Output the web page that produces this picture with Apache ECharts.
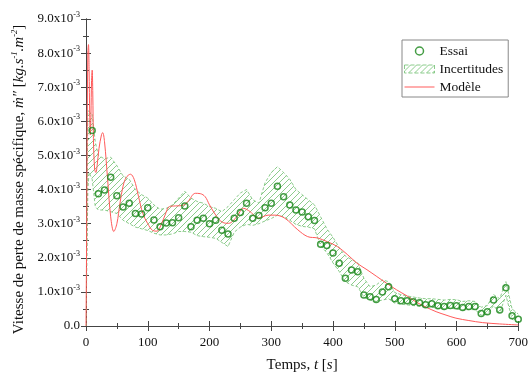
<!DOCTYPE html>
<html>
<head>
<meta charset="utf-8">
<script src="https://cdn.jsdelivr.net/npm/echarts@6/dist/echarts.min.js"></script>
<style>html,body{margin:0;padding:0;background:#fff}#c{width:531px;height:379px}</style>
</head>
<body>
<div id="c"></div>
<script>
// Values in units of 10^-3 kg.s^-1.m^-2
const essaiT = [10,20,30,40,50,60,70,80,90,100,110,120,130,140,150,160,170,180,190,200,210,220,230,240,250,260,270,280,290,300,310,320,330,340,350,360,370,380,390,400,410,420,430,440,450,460,470,480,490,500,510,520,530,540,550,560,570,580,590,600,610,620,630,640,650,660,670,680,690,700];
const essaiV = [5.73,3.88,3.99,4.36,3.82,3.49,3.6,3.3,3.28,3.47,3.11,2.91,3.02,3.03,3.17,3.52,2.91,3.1,3.16,3.0,3.1,2.81,2.7,3.16,3.33,3.6,3.16,3.24,3.47,3.6,4.1,3.79,3.55,3.4,3.34,3.2,3.09,2.4,2.36,2.14,1.84,1.4,1.64,1.59,0.91,0.86,0.78,1.0,1.15,0.8,0.74,0.74,0.71,0.68,0.62,0.65,0.59,0.57,0.6,0.59,0.54,0.57,0.57,0.37,0.42,0.76,0.47,1.12,0.3,0.2];

const bandT = [0,3,5,10,15,20,30,40,50,60,70,80,90,100,110,120,130,140,150,160,170,180,190,200,210,220,230,240,250,260,270,280,290,300,310,320,330,340,350,360,370,380,390,400,410,420,430,440,450,460,470,480,490,500,510,520,530,540,550,560,570,580,590,600,610,620,630,640,650,660,670,680,690,700];
const bandLow = [0,4.0,4.5,4.3,3.5,3.4,3.4,3.35,3.3,3.1,3.0,2.9,2.85,2.8,2.72,2.67,2.67,2.7,2.77,2.77,2.75,2.65,2.62,2.6,2.57,2.45,2.33,2.75,2.9,2.98,2.95,3.0,3.08,3.15,3.25,3.2,3.1,2.98,2.92,2.9,2.85,2.35,2.15,1.85,1.6,1.3,1.2,1.15,0.85,0.76,0.72,0.76,0.8,0.67,0.64,0.62,0.6,0.58,0.55,0.55,0.52,0.5,0.52,0.5,0.47,0.48,0.48,0.32,0.35,0.6,0.38,0.9,0.2,0.1];
const bandHigh = [0,6.3,6.3,6.2,5.4,5.0,4.9,4.95,4.7,4.4,4.3,4.0,3.85,3.75,3.55,3.42,3.45,3.55,3.75,3.95,3.75,3.65,3.6,3.5,3.45,3.35,3.5,3.7,3.9,4.0,3.7,3.6,4.2,4.5,4.67,4.5,4.3,4.0,3.85,3.7,3.55,3.2,2.85,2.6,2.3,2.05,1.95,1.85,1.4,1.15,1.2,1.35,1.3,0.98,0.92,0.88,0.85,0.82,0.8,0.8,0.78,0.76,0.78,0.77,0.72,0.74,0.72,0.55,0.6,0.92,0.8,1.3,0.5,0.35];

const modelT = [0,1,2,3,4,5,6,7,8,9,10,11,12,14,16,18,21,25,27,30,35,40,45,50,55,60,65,72,78,85,92,100,108,115,120,128,135,145,156,165,177,185,193,200,212,221,231,244,255,266,279,295,306,322,343,359,375,391,407,423,439,455,471,487,503,520,535,551,567,583,599,620,642,670,700];
const modelV = [0,2.5,6.0,8.0,8.25,7.5,6.2,5.6,6.2,7.2,7.5,6.8,5.5,4.6,4.5,4.7,5.2,5.6,5.67,5.4,4.3,3.2,2.77,3.0,3.6,4.1,4.35,4.45,4.3,3.8,3.3,3.0,2.8,2.78,2.9,3.25,3.5,3.52,3.53,3.65,3.89,3.88,3.79,3.55,3.2,3.04,3.01,3.2,3.45,3.35,3.16,3.25,3.25,3.16,2.82,2.62,2.58,2.47,2.33,2.1,1.84,1.65,1.45,1.25,1.06,0.88,0.7,0.55,0.42,0.32,0.23,0.16,0.1,0.06,0.03];

const xTicks = [0,100,200,300,400,500,600,700];
const yLabels = ['0.0','1.0','2.0','3.0','4.0','5.0','6.0','7.0','8.0','9.0'];

const FONT = 'Liberation Serif';
const GREEN = '#158515';
const HATCH = 'rgba(120,195,120,0.85)';
const RED = '#ff5a5a';
const AXIS = '#444';

// hatch pattern
const pc = document.createElement('canvas');
pc.width = 6; pc.height = 6;
const g = pc.getContext('2d');
g.strokeStyle = HATCH; g.lineWidth = 1;
g.beginPath();
g.moveTo(0,6); g.lineTo(6,0);
g.moveTo(-1,1); g.lineTo(1,-1);
g.moveTo(5,7); g.lineTo(7,5);
g.stroke();
const pattern = {image: pc, repeat: 'repeat'};

const chart = echarts.init(document.getElementById('c'));

const yFmt = function(v){
  const i = Math.round(v);
  if (i === 0) return '{a|' + yLabels[0] + '}';
  return '{a|' + yLabels[i] + 'x10}{s|-3}';
};

const baseX = {
  type: 'value', min: 0, max: 700, interval: 100,
  axisLine: {show: true, lineStyle: {color: AXIS, width: 1}},
  axisTick: {show: true, inside: true, length: 5, lineStyle: {color: AXIS}},
  minorTick: {show: true, splitNumber: 2, length: 3, lineStyle: {color: AXIS}},
  splitLine: {show: false}
};
const baseY = {
  type: 'value', min: 0, max: 9, interval: 1,
  axisLine: {show: true, lineStyle: {color: AXIS, width: 1}},
  axisTick: {show: true, inside: true, length: 5, lineStyle: {color: AXIS}},
  minorTick: {show: true, splitNumber: 2, length: 3, lineStyle: {color: AXIS}},
  splitLine: {show: false}
};

function renderBand(params, api) {
  if (params.dataIndex !== 0) return null;
  const up = bandT.map((t, i) => api.coord([t, bandHigh[i]]));
  const lo = bandT.map((t, i) => api.coord([t, bandLow[i]]));
  const poly = up.concat(lo.slice().reverse());
  return {
    type: 'group',
    children: [
      {type: 'polygon', shape: {points: poly}, style: {fill: pattern, stroke: null}},
      {type: 'polyline', shape: {points: up}, style: {stroke: HATCH, lineWidth: 1, lineDash: [3, 2], fill: null}},
      {type: 'polyline', shape: {points: lo}, style: {stroke: HATCH, lineWidth: 1, lineDash: [3, 2], fill: null}}
    ]
  };
}

chart.setOption({
  animation: false,
  backgroundColor: '#fff',
  grid: {left: 86, right: 8, top: 19, bottom: 53},
  legend: {
    orient: 'vertical', left: 402, top: 40,
    borderColor: '#888', borderWidth: 1, padding: [4, 5, 3, 2],
    itemGap: 4, itemWidth: 30, itemHeight: 8,
    textStyle: {fontFamily: FONT, fontSize: 13.5, color: '#111'},
    data: [
      {name: 'Essai', icon: 'circle', itemStyle: {color: 'rgba(0,0,0,0)', borderColor: GREEN, borderWidth: 1.5}},
      {name: 'Incertitudes', icon: 'rect', itemStyle: {color: pattern, borderColor: HATCH, borderWidth: 1, borderType: 'dashed'}},
      {name: 'Modèle', icon: 'path://M0,0 L30,0 L30,1 L0,1 Z', itemStyle: {color: RED, borderWidth: 0}}
    ]
  },
  xAxis: [
    Object.assign({}, baseX, {
      position: 'bottom',
      axisLabel: {margin: 10, fontFamily: FONT, fontSize: 13, color: '#111', formatter: function(v){ return xTicks.indexOf(v) >= 0 ? String(v) : ''; }},
      name: '{n|Temps, }{i|t}{n| [}{i|s}{n|]}',
      nameLocation: 'middle', nameGap: 32,
      nameTextStyle: {rich: {n: {fontFamily: FONT, fontSize: 15, color: '#111'}, i: {fontFamily: FONT, fontSize: 15, fontStyle: 'italic', color: '#111'}}}
    }),
    Object.assign({}, baseX, {position: 'top', axisLabel: {show: false}})
  ],
  yAxis: [
    Object.assign({}, baseY, {
      position: 'left',
      axisLabel: {
        margin: 6, formatter: yFmt,
        rich: {
          a: {fontFamily: FONT, fontSize: 13, color: '#111', lineHeight: 16},
          s: {fontFamily: FONT, fontSize: 8, color: '#111', verticalAlign: 'top', lineHeight: 10}
        }
      },
      name: '{n|Vitesse de perte de masse spécifique, }{i|ṁ″ }{n|[}{i|kg.s}{si|-1}{i|.m}{si|-2}{n|]}',
      nameLocation: 'middle', nameGap: 58,
      nameTextStyle: {padding: [0, 0, 0, -14], rich: {
        n: {fontFamily: FONT, fontSize: 15, color: '#111', lineHeight: 17},
        i: {fontFamily: FONT, fontSize: 15, fontStyle: 'italic', color: '#111', lineHeight: 17},
        si: {fontFamily: FONT, fontSize: 8.5, fontStyle: 'italic', color: '#111', verticalAlign: 'top', lineHeight: 10}
      }}
    }),
    Object.assign({}, baseY, {position: 'right', axisLabel: {show: false}})
  ],
  series: [
    {
      name: 'Incertitudes', type: 'custom', renderItem: renderBand, clip: true,
      data: bandT.map((t, i) => [t, bandLow[i], bandHigh[i]]),
      encode: {x: 0, y: [1, 2]},
      itemStyle: {color: pattern, borderColor: HATCH},
      silent: true, z: 1
    },
    {
      name: 'Modèle', type: 'line', symbol: 'none', smooth: 0.35,
      data: modelT.map((t, i) => [t, modelV[i]]),
      lineStyle: {color: RED, width: 1},
      itemStyle: {color: RED},
      z: 3
    },
    {
      name: 'Essai', type: 'scatter', symbol: 'circle', symbolSize: 6,
      data: essaiT.map((t, i) => [t, essaiV[i]]),
      itemStyle: {color: 'rgba(0,0,0,0)', borderColor: GREEN, borderWidth: 1.5},
      z: 4
    }
  ]
});
</script>
</body>
</html>
